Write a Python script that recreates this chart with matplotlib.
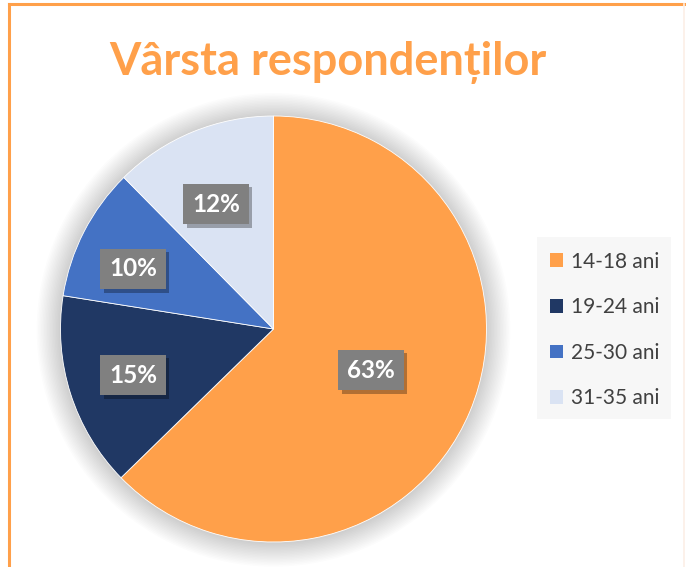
import numpy as np
import matplotlib
matplotlib.use("Agg")
import matplotlib.pyplot as plt
import matplotlib.patheffects as pe
from matplotlib.patches import Circle, Rectangle
from matplotlib.lines import Line2D

categories = ["14-18 ani", "19-24 ani", "25-30 ani", "31-35 ani"]
values = [62.7, 14.8, 10.1, 12.4]
labels = [f"{v:.0f}%" for v in values]
colors = ["#FFA04A", "#203864", "#4472C4", "#DAE3F3"]
label_radius = [0.497, 0.694, 0.717, 0.646]
label_angle_shift = [0.0, 0.5, 4.0, 2.4]

W, H = 686, 567
fig = plt.figure(figsize=(W / 100, H / 100), dpi=100)
fig.patch.set_facecolor("white")

# frame lines (orange border of the chart area)
fig.add_artist(Line2D([9 / W, 9 / W], [0, 1 - 4 / H], color="#FFA04A", lw=2.2, transform=fig.transFigure))
fig.add_artist(Line2D([9 / W, 1], [1 - 4 / H, 1 - 4 / H], color="#FFA04A", lw=2.2, transform=fig.transFigure))
fig.add_artist(Line2D([684 / W, 684 / W], [0, 1 - 4 / H], color="#FCEFE6", lw=1.2, transform=fig.transFigure))

cx, cy, R = 273.5, 329, 213
ax = fig.add_axes([(cx - R) / W, 1 - (cy + R) / H, 2 * R / W, 2 * R / H])

# soft shadow around the pie
for i in range(16):
    r = 1.0 + 0.007 * (i + 1)
    ax.add_patch(Circle((0.0, -0.004), r, facecolor="black", alpha=0.010, edgecolor="none", zorder=0,
                        clip_on=False))

wedges, _ = ax.pie(values, colors=colors, startangle=90, counterclock=False, radius=1.0,
                   wedgeprops=dict(linewidth=0.6, edgecolor="white"))
for w in wedges:
    w.set_zorder(2)
ax.set_xlim(-1, 1)
ax.set_ylim(-1, 1)
ax.set_aspect("equal")
ax.axis("off")

for w, lab, rr, sh in zip(wedges, labels, label_radius, label_angle_shift):
    ang = np.deg2rad((w.theta1 + w.theta2) / 2 + sh)
    x, y = rr * np.cos(ang), rr * np.sin(ang)
    t = ax.text(x, y, lab, ha="center", va="center", fontsize=17.5, fontweight="bold", family="Lato",
                color="white", zorder=4,
                bbox=dict(boxstyle="square,pad=0.36", facecolor="#808080", edgecolor="none"))
    t.get_bbox_patch().set_path_effects(
        [pe.SimplePatchShadow(offset=(2.5, -2.5), shadow_rgbFace="black", alpha=0.3), pe.Normal()])

fig.text(328 / W, 1 - 62 / H, "Vârsta respondenților", ha="center", va="center", fontsize=32.5,
         fontweight="bold", family="Lato", color="#FFA04A")

# legend
fig.add_artist(Rectangle((537 / W, 1 - 419 / H), 134 / W, 182 / H, transform=fig.transFigure,
                         facecolor="#F7F7F7", edgecolor="none", zorder=1))
handles = [Rectangle((0, 0), 1, 1, facecolor=c, edgecolor="none") for c in colors]
leg = fig.legend(handles, categories, loc="center left", bbox_to_anchor=(550 / W, 1 - 330 / H),
                 frameon=False, prop=dict(family="Lato", size=15), labelcolor="#404040",
                 handlelength=0.62, handleheight=0.62, handletextpad=0.4, labelspacing=1.23,
                 borderpad=0, borderaxespad=0)

fig.savefig("out.png", dpi=100)
